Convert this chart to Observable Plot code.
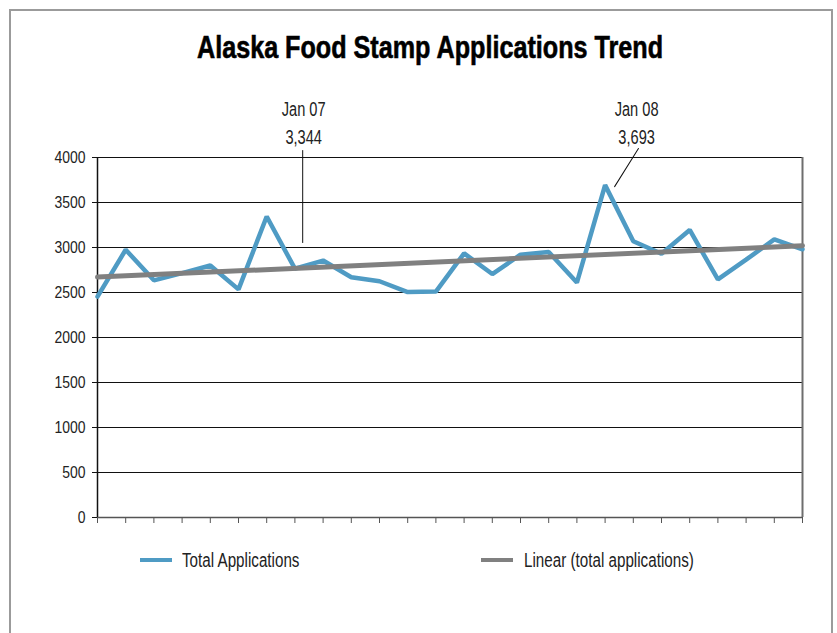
<!DOCTYPE html>
<html><head><meta charset="utf-8">
<script src="https://cdn.jsdelivr.net/npm/d3@7"></script>
<script src="https://cdn.jsdelivr.net/npm/@observablehq/plot@0.6"></script>
<style>
body{margin:0;background:#fff;font-family:"Liberation Sans",Arial,sans-serif;color:#222;}
#frame{position:absolute;left:9px;top:9px;width:820px;height:700px;border:2px solid #9b9b9b;}
#title{position:absolute;left:0;top:0;}
#chart{position:absolute;left:0;top:90px;}
.sw{position:absolute;height:4px;}
.lt{position:absolute;font-size:20px;line-height:22px;white-space:nowrap;transform:scaleX(0.76);transform-origin:0 50%;}
</style></head><body>
<div id="frame"></div>
<svg id="title" width="837" height="80"><text x="430" y="58" text-anchor="middle" font-weight="bold" font-size="31" fill="#000" stroke="#000" stroke-width="0.6" textLength="466" lengthAdjust="spacingAndGlyphs" font-family="Liberation Sans, Arial, sans-serif">Alaska Food Stamp Applications Trend</text></svg>
<div id="chart"></div>
<div id="legend"></div>
<script>
const months = ["Jul 06","Aug 06","Sep 06","Oct 06","Nov 06","Dec 06","Jan 07","Feb 07","Mar 07","Apr 07","May 07","Jun 07","Jul 07","Aug 07","Sep 07","Oct 07","Nov 07","Dec 07","Jan 08","Feb 08","Mar 08","Apr 08","May 08","Jun 08","Jul 08","Aug 08"];
const applications = [2455,2975,2635,2715,2800,2535,3344,2765,2855,2670,2625,2505,2510,2935,2705,2920,2950,2610,3693,3070,2930,3195,2645,2865,3090,2980];
const yTicks = [0,500,1000,1500,2000,2500,3000,3500,4000];
const annotatedMonths = ["Jan 07","Jan 08"];
const seriesNames = ["Total Applications","Linear (total applications)"];
const seriesColors = ["#4f9bc4","#808080"];

const data = months.map((m,i)=>({i, month:m, value:applications[i]}));
const notes = annotatedMonths.map(m => data.find(d => d.month === m));
const fmt = d3.format(",");
const leader = {draw(ctx, l){ ctx.moveTo(0,0); ctx.lineTo(0,-l); }};
const font = "Liberation Sans, Arial, sans-serif";

const chart = Plot.plot({
  width: 837, height: 450,
  marginLeft: 97, marginRight: 35, marginTop: 67, marginBottom: 23,
  style: {fontFamily: font, color: "#222", background: "transparent"},
  x: {type: "linear", domain: [0, months.length-1]},
  y: {domain: [0, 4000]},
  marks: [
    Plot.ruleY(yTicks.filter(t => t > 0), {stroke: "#111", strokeWidth: 1}),
    Plot.ruleX([months.length-1], {stroke: "#6e6e6e", strokeWidth: 2}),
    Plot.axisX({ticks: d3.range(months.length), tickSize: 6, tickFormat: () => "", label: null, stroke: "#555"}),
    Plot.ruleY([0], {stroke: "#555", strokeWidth: 1.5}),
    Plot.axisY({ticks: yTicks, tickSize: 5, tickPadding: 7, tickFormat: d3.format("d"), fontSize: 17, label: null, stroke: "#111"}),
    Plot.ruleX([0], {stroke: "#111", strokeWidth: 1.5}),
    Plot.line(data, {x: "i", y: "value", stroke: seriesColors[0], strokeWidth: 4.5, strokeLinejoin: "miter"}),
    Plot.linearRegressionY(data, {x: "i", y: "value", ci: 0, stroke: seriesColors[1], strokeWidth: 5}),
    Plot.vector(notes.slice(0,1), {x: "i", y: "value", anchor: "start", dx: 36, dy: 26, length: 92, rotate: 0, shape: leader, stroke: "#111", strokeWidth: 1}),
    Plot.vector(notes.slice(1,2), {x: "i", y: "value", anchor: "start", dx: 9.5, dy: 1.5, length: 45, rotate: 32, shape: leader, stroke: "#111", strokeWidth: 1}),
    Plot.text(notes.slice(0,1), {x: "i", frameAnchor: "top", text: d => `${d.month}\n${fmt(d.value)}`, lineAnchor: "bottom", lineHeight: 1.4, dy: -14, dx: 37, fontSize: 20, fill: "#222"}),
    Plot.text(notes.slice(1,2), {x: "i", frameAnchor: "top", text: d => `${d.month}\n${fmt(d.value)}`, lineAnchor: "bottom", lineHeight: 1.4, dy: -14, dx: 31.5, fontSize: 20, fill: "#222"})
  ]
});
document.getElementById("chart").append(chart);

// narrow the plot's text to a condensed width
chart.querySelectorAll("text").forEach(t => {
  const spans = t.querySelectorAll("tspan");
  const els = spans.length ? [...spans] : [t];
  els.forEach(e => {
    const L = e.getComputedTextLength();
    const fs = parseFloat(getComputedStyle(e).fontSize);
    const k = fs >= 20 ? 0.73 : 0.82;
    if (L > 0) { e.setAttribute("textLength", L * k); e.setAttribute("lengthAdjust", "spacingAndGlyphs"); }
  });
});

const legendPos = [{sw: 140, tx: 182}, {sw: 481, tx: 524}];
const legend = document.getElementById("legend");
seriesNames.forEach((name, k) => {
  const s = document.createElement("div");
  s.className = "sw";
  s.style.left = legendPos[k].sw + "px"; s.style.top = "558px"; s.style.width = "32px";
  s.style.background = seriesColors[k];
  legend.append(s);
  const t = document.createElement("div");
  t.className = "lt";
  t.style.left = legendPos[k].tx + "px"; t.style.top = "549px";
  t.textContent = name;
  legend.append(t);
});
</script>
</body></html>
